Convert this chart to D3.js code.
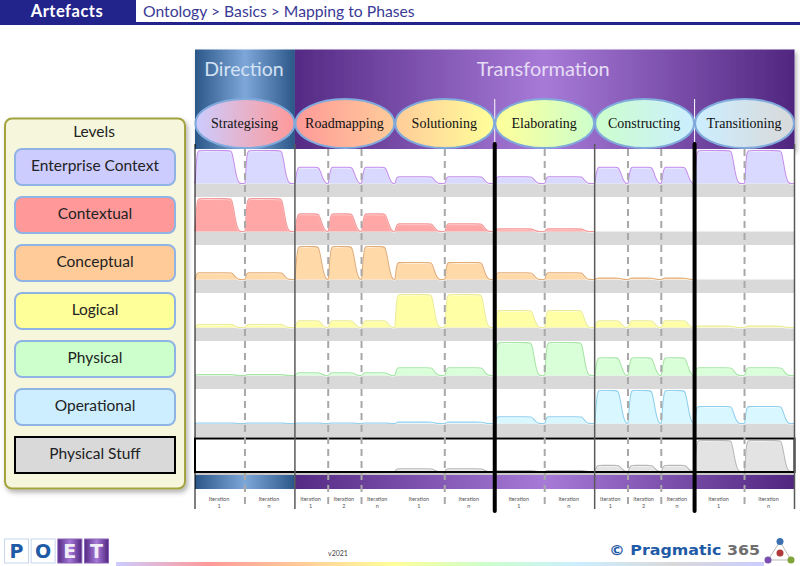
<!DOCTYPE html>
<html>
<head>
<meta charset="utf-8">
<script src="https://cdn.jsdelivr.net/npm/d3@7/dist/d3.min.js"></script>
<style>
  html, body { margin: 0; padding: 0; background: #fff; }
  svg { display: block; font-family: Lato, sans-serif; }
</style>
</head>
<body>
<svg id="chart" width="800" height="566"></svg>
<script>
const phases = ['Strategising', 'Roadmapping', 'Solutioning', 'Elaborating', 'Constructing', 'Transitioning'];
const iterations = [['1', 'n'], ['1', '2', 'n'], ['1', 'n'], ['1', 'n'], ['1', '2', 'n'], ['1', 'n']];
const levels = ['Enterprise Context', 'Contextual', 'Conceptual', 'Logical', 'Physical', 'Operational', 'Physical Stuff'];
const stages = ['Direction', 'Transformation'];
const crumbs = 'Ontology > Basics > Mapping to Phases';

// share of the row height used in each phase, one array per level
const enterpriseContext = [97, 48, 20, 20, 48, 97];
const contextual = [97, 52, 23, 8, 0, 0];
const conceptual = [20, 97, 50, 20, 4, 0];
const logical = [9, 20, 97, 50, 20, 4];
const physical = [3, 8, 23, 97, 52, 23];
const operational = [1.5, 1.5, 4, 20, 97, 50];
const physicalStuff = [0, 0, 8, 3, 18, 91];
const levelValues = [enterpriseContext, contextual, conceptual, logical, physical, operational, physicalStuff];

const levelFill = ['#ccccff', '#ff9999', '#ffcc99', '#ffff99', '#ccffcc', '#cceeff', '#d9d9d9'];
const humpFill = ['#d9d9ff', '#ffa6a6', '#ffd9a8', '#ffffa6', '#d9ffd9', '#d9f7ff', '#e3e3e3'];
const humpStroke = ['#c490ee', '#f59a9a', '#e2ad78', '#ecec96', '#a6e6a6', '#8fd0ee', '#b8b8b8'];

// hump outline as [share of iteration width, share of value]
const wideHump = [[0, 0], [.01, .15], [.03, .7], [.05, .95], [.085, 1], [.12, 1], [.7, 1], [.735, .98], [.77, .72], [.81, .35], [.85, .1], [.89, 0], [.94, 0], [1, 0]];
const narrowHump = [[0, 0], [.015, .15], [.05, .65], [.09, .95], [.13, 1], [.18, 1], [.66, 1], [.71, .98], [.77, .72], [.83, .35], [.89, .1], [.95, 0], [.98, 0], [1, 0]];

const svg = d3.select('#chart');
const defs = svg.append('defs');

function gradient(id, stops) {
  const g = defs.append('linearGradient').attr('id', id);
  stops.forEach(s => g.append('stop').attr('offset', s[0]).attr('stop-color', s[1]));
}
gradient('blueBand', [[0, '#2b5788'], [.5, '#7ea7d9'], [1, '#2b5788']]);
gradient('purpleBand', [[0, '#542a84'], [.5, '#a77ad8'], [1, '#50267f']]);
gradient('rainbow', levelFill.concat(['#ccccff']).map((c, i) => [i / 7, c]));
phases.forEach((p, i) => gradient('phase' + i, [[0, levelFill[i]], [1, levelFill[i + 1]]]));

const shadow = defs.append('filter').attr('id', 'shadow').attr('x', '-10%').attr('y', '-10%').attr('width', '120%').attr('height', '120%');
shadow.append('feDropShadow').attr('dx', 2).attr('dy', 3).attr('stdDeviation', 2.5).attr('flood-opacity', .3);

const x = d3.scaleLinear().domain([0, 6]).range([195, 794.5]);
const rowBase = d3.scalePoint().domain(levels).range([183.5, 471.5]);
const y = d3.scaleLinear().domain([0, 100]).range([0, -34]);
const bottom = 509;

// title bar
svg.append('rect').attr('y', 22).attr('width', 800).attr('height', 3).attr('fill', '#23238c');
svg.append('rect').attr('width', 136).attr('height', 24).attr('fill', '#23238c');
svg.append('text').attr('x', 67).attr('y', 16.5).attr('text-anchor', 'middle')
  .attr('font-size', 16.5).attr('letter-spacing', .5).attr('font-weight', 700).attr('fill', '#fff').text('Artefacts');
svg.append('text').attr('x', 143).attr('y', 16.5).attr('font-size', 15.7).attr('fill', '#3a3a96').text(crumbs);

// header bands
const stageG = svg.append('g').attr('filter', 'url(#shadow)');
stageG.append('rect').attr('x', x(0)).attr('y', 49.5).attr('width', x(1) - x(0)).attr('height', 100).attr('fill', 'url(#blueBand)');
stageG.append('rect').attr('x', x(1)).attr('y', 49.5).attr('width', x(6) - x(1)).attr('height', 100).attr('fill', 'url(#purpleBand)');
svg.selectAll('.stage').data(stages).join('text').attr('class', 'stage')
  .attr('x', (d, i) => i ? (x(1) + x(6)) / 2 - 1.5 : (x(0) + x(1)) / 2 - 1)
  .attr('y', 76).attr('text-anchor', 'middle')
  .attr('font-size', (d, i) => i ? 20 : 19.5)
  .attr('fill', (d, i) => i ? '#e6dcf5' : '#d3e2f5').text(d => d);

// grey bands under each row
const plot = svg.append('g');
plot.append('rect').attr('x', x(0)).attr('y', 149).attr('width', x(6) - x(0)).attr('height', 324).attr('fill', '#fff');
plot.selectAll('.band').data(levels.slice(0, 6)).join('rect').attr('class', 'band')
  .attr('x', x(0)).attr('y', d => rowBase(d)).attr('width', x(6) - x(0)).attr('height', 13.5).attr('fill', '#d9d9d9');

// one hump per iteration
const area = d3.area().x(d => d[0]).y0(0).y1(d => d[1]).curve(d3.curveBasis);
const topLine = d3.line().x(d => d[0]).y(d => d[1]).curve(d3.curveBasis);

levels.forEach((level, r) => {
  const row = plot.append('g').attr('transform', `translate(0,${rowBase(level)})`);
  phases.forEach((p, pi) => {
    const v = levelValues[r][pi];
    if (!v) return;
    const n = iterations[pi].length;
    const profile = n === 3 ? narrowHump : wideHump;
    iterations[pi].forEach((it, k) => {
      const pts = profile.map(q => [x(pi + (k + q[0]) / n), y(v * q[1])]);
      row.append('path').attr('d', area(pts)).attr('fill', humpFill[r]);
      if (v > 3) {
        row.append('path').attr('d', topLine(pts)).attr('fill', 'none')
          .attr('stroke', '#fff').attr('stroke-opacity', .55).attr('transform', 'translate(0,1)');
      }
      row.append('path').attr('d', topLine(pts)).attr('fill', 'none')
        .attr('stroke', humpStroke[r]).attr('stroke-width', 1.1);
    });
  });
});

// bottom band
const bandG = svg.append('g');
bandG.append('rect').attr('x', x(0)).attr('y', 473).attr('width', x(6) - x(0)).attr('height', 2).attr('fill', '#c8c8c8');
bandG.append('rect').attr('x', x(0)).attr('y', 475).attr('width', x(1) - x(0)).attr('height', 14).attr('fill', 'url(#blueBand)');
bandG.append('rect').attr('x', x(1)).attr('y', 475).attr('width', x(6) - x(1)).attr('height', 14).attr('fill', 'url(#purpleBand)');

// physical stuff frame
svg.append('rect').attr('x', x(0)).attr('y', 438.5).attr('width', x(6) - x(0)).attr('height', 33.5)
  .attr('fill', 'none').attr('stroke', '#000').attr('stroke-width', 2);

// iteration dividers and labels
const dividers = [];
phases.forEach((p, pi) => {
  const n = iterations[pi].length;
  d3.range(1, n).forEach(k => dividers.push(pi + k / n));
});
svg.selectAll('.dash').data(dividers).join('line').attr('class', 'dash')
  .attr('x1', d => x(d)).attr('x2', d => x(d)).attr('y1', 149).attr('y2', bottom)
  .attr('stroke', '#a8a8a8').attr('stroke-width', 2).attr('stroke-dasharray', '7 5');

// phase boundaries: 0 none, 1 thin, 2 thick
const boundary = [1, 1, 0, 2, 1, 2, 1];
boundary.forEach((b, i) => {
  if (!b) return;
  svg.append('line').attr('x1', x(i)).attr('x2', x(i)).attr('y1', 144).attr('y2', b === 2 ? 511 : bottom)
    .attr('stroke', b === 2 || i === 0 ? '#000' : '#595959')
    .attr('stroke-width', b === 2 ? 4 : (i === 0 ? 1 : 1.5))
    .attr('stroke-linecap', b === 2 ? 'round' : 'butt');
  if (b === 2) {
    svg.append('line').attr('x1', x(i)).attr('x2', x(i)).attr('y1', 99).attr('y2', 142)
      .attr('stroke', '#fff').attr('stroke-width', 1);
  }
});

phases.forEach((p, pi) => {
  const n = iterations[pi].length;
  iterations[pi].forEach((it, k) => {
    const cx = x(pi + (k + .5) / n) - 1;
    const t = svg.append('text').attr('text-anchor', 'middle').attr('font-size', 5.5).attr('fill', '#555');
    t.append('tspan').attr('x', cx).attr('y', 501).text('Iteration');
    t.append('tspan').attr('x', cx).attr('y', 508).text(it);
  });
});

// phase ellipses
const ell = svg.selectAll('.phase').data(phases).join('g').attr('class', 'phase');
ell.append('ellipse').attr('cx', (d, i) => x(i + .5)).attr('cy', 123.5).attr('rx', 49.5).attr('ry', 24.5)
  .attr('fill', (d, i) => `url(#phase${i})`).attr('stroke', '#80a9dc').attr('stroke-width', 2);
ell.append('text').attr('x', (d, i) => x(i + .5) - .5).attr('y', 127.5).attr('text-anchor', 'middle')
  .attr('font-family', '"Liberation Serif", serif').attr('font-size', 14).attr('fill', '#111').text(d => d);

// levels panel
svg.append('rect').attr('x', 5).attr('y', 118.5).attr('width', 180).attr('height', 370).attr('rx', 7)
  .attr('fill', '#f6f6dc').attr('stroke', '#a3a340').attr('stroke-width', 2).attr('filter', 'url(#shadow)');
svg.append('text').attr('x', 94).attr('y', 137).attr('text-anchor', 'middle').attr('font-size', 15.5).attr('fill', '#222').text('Levels');

const boxes = svg.selectAll('.level').data(levels).join('g').attr('class', 'level');
boxes.append('rect').attr('x', 15).attr('y', d => rowBase(d) - 34.5).attr('width', 160).attr('height', 36)
  .attr('rx', (d, i) => i === 6 ? 0 : 7)
  .attr('fill', (d, i) => levelFill[i])
  .attr('stroke', (d, i) => i === 6 ? '#000' : '#8fb4e3').attr('stroke-width', 2);
boxes.append('text').attr('x', 95).attr('y', d => rowBase(d) - 13).attr('text-anchor', 'middle')
  .attr('font-size', 15.5).attr('fill', '#222').text(d => d);

// footer
const poet = svg.append('g');
const poetLetters = ['P', 'O', 'E', 'T'];
const poetX = d3.scaleBand().domain(poetLetters).range([4.5, 108.5]).paddingInner(.1);
poet.selectAll('rect').data(poetLetters).join('rect')
  .attr('x', d => poetX(d)).attr('y', 539).attr('width', poetX.bandwidth()).attr('height', 24)
  .attr('fill', (d, i) => i < 2 ? '#fff' : 'url(#purpleBand)').attr('stroke', (d, i) => i < 2 ? '#c6d6ec' : '#8a63bb');
poet.selectAll('text').data(poetLetters).join('text')
  .attr('x', d => poetX(d) + poetX.bandwidth() / 2).attr('y', 558).attr('text-anchor', 'middle')
  .attr('font-family', '"DejaVu Sans", sans-serif').attr('font-weight', 700).attr('font-size', 19)
  .attr('fill', (d, i) => i < 2 ? '#1f5aa6' : '#f0ecf8').text(d => d);

svg.append('text').attr('x', 338).attr('y', 555.5).attr('text-anchor', 'middle').attr('font-size', 7).attr('fill', '#444').text('v2021');
svg.append('rect').attr('x', 116).attr('y', 562).attr('width', 648).attr('height', 4).attr('fill', 'url(#rainbow)');

const brand = svg.append('text').attr('x', 609).attr('y', 555).attr('font-family', '"DejaVu Sans", sans-serif')
  .attr('font-weight', 700).attr('font-size', 13.5).attr('textLength', 151).attr('lengthAdjust', 'spacingAndGlyphs');
brand.append('tspan').attr('fill', '#1f5aa6').text('© Pragmatic ');
brand.append('tspan').attr('fill', '#6e6e6e').text('365');

// small network mark
const nodes = [[780, 541.5, '#3b6fb0'], [780, 553, '#b03a3a'], [768, 560, '#7a4fb0'], [791, 560, '#7fa53a']];
const mark = svg.append('g');
mark.append('path').attr('d', d3.line()([nodes[0], nodes[2], nodes[3], nodes[0]])).attr('fill', 'none').attr('stroke', '#bbb');
mark.selectAll('circle').data(nodes).join('circle').attr('cx', d => d[0]).attr('cy', d => d[1]).attr('r', 3.5).attr('fill', d => d[2]);
</script>
</body>
</html>
